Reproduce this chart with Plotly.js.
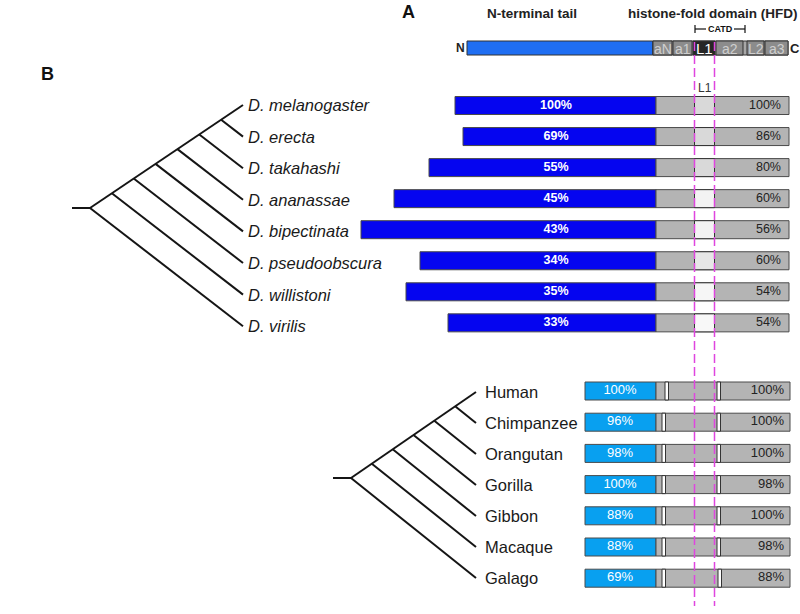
<!DOCTYPE html>
<html>
<head>
<meta charset="utf-8">
<script src="https://cdn.plot.ly/plotly-3.0.1.min.js"></script>
<style>
html,body{margin:0;padding:0;background:#fff;}
#chart{width:800px;height:614px;}
</style>
</head>
<body>
<div id="chart"></div>
<script>
// ---------------- DATA ----------------
const flySpecies = ['D. melanogaster','D. erecta','D. takahashi','D. ananassae','D. bipectinata','D. pseudoobscura','D. willistoni','D. virilis'];
const flyTailLen = [201, 193, 227, 262, 295, 236, 250, 208];   // N-terminal tail length (drawing units)
const flyTailPct = [100, 69, 55, 45, 43, 34, 35, 33];
const flyHfdPct  = [100, 86, 80, 60, 56, 60, 54, 54];
const flyL1Fill  = ['#d9d9d9','#d9d9d9','#d9d9d9','#f3f3f3','#f3f3f3','#e6e6e6','#f6f6f6','#f8f8f8'];

const primSpecies = ['Human','Chimpanzee','Orangutan','Gorilla','Gibbon','Macaque','Galago'];
const primTailPct = [100, 96, 98, 100, 88, 88, 69];
const primHfdPct  = [100, 100, 100, 98, 100, 98, 88];
const primGap1    = [665, 662, 662, 662, 662, 662, 662];  // alignment gap positions
const primGap2    = [717, 717, 717, 717, 717, 717, 718];

const domainNames = ['aN','a1','L1','a2','L2','a3'];
const domainStart = [653, 673, 693, 716, 747, 765];
const domainEnd   = [672, 692, 715, 743, 764, 788];

// ---------------- LAYOUT CONSTANTS ----------------
const FONT = 'Liberation Sans, Arial, sans-serif';
const HFD0 = 656;            // start of HFD in drawing units
const flyHfdEnd = 789, primTailStart = 585, primHfdEnd = 790;
const flyRowY  = flySpecies.map((_, i) => 105.5 + 31.05 * i);
const flyLabY  = flySpecies.map((_, i) => 105 + 31.6 * i);
const primRowY = primSpecies.map((_, i) => 391 + 31.2 * i);
const primLabY = primSpecies.map((_, i) => 392 + 31.0 * i);
const BAR_H = 18;
const L1X0 = 694.5, L1X1 = 714.5;

const traces = [];
const shapes = [];
const annotations = [];

// ---- tree helper ----
function cladogram(rootX, rootY, stubX, tipX, tipYs) {
  const xs = [], ys = [];
  xs.push(stubX, rootX, null); ys.push(rootY, rootY, null);
  const n = tipYs.length;
  const sUp = (tipYs[0] - rootY) / (tipX - rootX);
  const sDn = (tipYs[n - 1] - rootY) / (tipX - rootX);
  xs.push(rootX, tipX, null); ys.push(rootY, tipYs[0], null);
  for (let i = 1; i < n; i++) {
    const nx = (rootY - sUp * rootX - tipYs[i] + sDn * tipX) / (sDn - sUp);
    const ny = rootY + sUp * (nx - rootX);
    xs.push(nx, tipX, null); ys.push(ny, tipYs[i], null);
  }
  return {type: 'scatter', mode: 'lines', x: xs, y: ys, hoverinfo: 'skip',
          line: {color: '#151515', width: 2}, showlegend: false};
}
traces.push(cladogram(90, 208, 72, 243, flyLabY));
traces.push(cladogram(351, 478, 333, 476, primLabY));

// ---- Drosophila bars ----
traces.push({type: 'bar', orientation: 'h', y: flyRowY, x: flyTailLen,
  base: flyTailLen.map(l => HFD0 - l), width: BAR_H,
  marker: {color: '#0505f0', line: {color: '#4a4a4a', width: 1}}, hoverinfo: 'skip', showlegend: false});
traces.push({type: 'bar', orientation: 'h', y: flyRowY, x: flyRowY.map(() => flyHfdEnd - HFD0),
  base: flyRowY.map(() => HFD0), width: BAR_H,
  marker: {color: '#b4b4b4', line: {color: '#4a4a4a', width: 1}}, hoverinfo: 'skip', showlegend: false});
traces.push({type: 'scatter', mode: 'text', x: flyRowY.map(() => 556), y: flyRowY,
  text: flyTailPct.map(p => '<b>' + p + '%</b>'), textposition: 'middle center',
  textfont: {family: FONT, size: 12.5, color: '#ffffff'}, hoverinfo: 'skip', showlegend: false});
traces.push({type: 'scatter', mode: 'text', x: flyRowY.map(() => 781), y: flyRowY,
  text: flyHfdPct.map(p => p + '%'), textposition: 'middle left',
  textfont: {family: FONT, size: 12.5, color: '#222'}, hoverinfo: 'skip', showlegend: false});
flyRowY.forEach((y, i) => {
  shapes.push({type: 'rect', xref: 'x', yref: 'y', x0: L1X0, x1: L1X1, y0: y - BAR_H / 2, y1: y + BAR_H / 2,
    fillcolor: flyL1Fill[i], line: {color: '#333', width: 1}});
});

// ---- Primate bars ----
traces.push({type: 'bar', orientation: 'h', y: primRowY, x: primRowY.map(() => HFD0 - primTailStart),
  base: primRowY.map(() => primTailStart), width: BAR_H,
  marker: {color: '#08a0f0', line: {color: '#4a4a4a', width: 1}}, hoverinfo: 'skip', showlegend: false});
traces.push({type: 'bar', orientation: 'h', y: primRowY, x: primRowY.map(() => primHfdEnd - HFD0),
  base: primRowY.map(() => HFD0), width: BAR_H,
  marker: {color: '#b4b4b4', line: {color: '#4a4a4a', width: 1}}, hoverinfo: 'skip', showlegend: false});
traces.push({type: 'scatter', mode: 'text', x: primRowY.map(() => 620), y: primRowY,
  text: primTailPct.map(p => p + '%'), textposition: 'middle center',
  textfont: {family: FONT, size: 13, color: '#ffffff'}, hoverinfo: 'skip', showlegend: false});
traces.push({type: 'scatter', mode: 'text', x: primRowY.map(() => 784), y: primRowY,
  text: primHfdPct.map(p => p + '%'), textposition: 'middle left',
  textfont: {family: FONT, size: 13, color: '#222'}, hoverinfo: 'skip', showlegend: false});
primRowY.forEach((y, i) => {
  [primGap1[i], primGap2[i]].forEach(g => {
    shapes.push({type: 'rect', xref: 'x', yref: 'y', x0: g, x1: g + 3.5, y0: y - BAR_H / 2, y1: y + BAR_H / 2,
      fillcolor: '#ffffff', line: {color: '#333', width: 1}});
  });
});

// ---- Top domain diagram ----
const TOP_Y = 48, TOP_H = 14;
traces.push({type: 'bar', orientation: 'h', y: [TOP_Y], x: [domainStart[0] - 467], base: [467], width: TOP_H,
  marker: {color: '#1f6ef2', line: {color: '#333', width: 1}}, hoverinfo: 'skip', showlegend: false});
shapes.push({type: 'rect', xref: 'x', yref: 'y', x0: domainStart[0], x1: domainEnd[domainEnd.length - 1],
  y0: TOP_Y - TOP_H / 2, y1: TOP_Y + TOP_H / 2, fillcolor: '#a8a8a8', line: {color: '#333', width: 1}});
domainNames.forEach((d, i) => {
  const isL1 = d === 'L1';
  shapes.push({type: 'rect', xref: 'x', yref: 'y', x0: domainStart[i], x1: domainEnd[i],
    y0: TOP_Y - TOP_H / 2, y1: TOP_Y + TOP_H / 2, fillcolor: isL1 ? '#262626' : '#8c8c8c',
    line: {color: '#333', width: 1}});
  annotations.push({xref: 'x', yref: 'y', x: (domainStart[i] + domainEnd[i]) / 2, y: TOP_Y + 0.5, text: d,
    showarrow: false, xanchor: 'center', yanchor: 'middle',
    font: {family: FONT, size: isL1 ? 15 : 14, color: isL1 ? '#ffffff' : '#cfcfcf'}});
});

// CATD bracket
shapes.push({type: 'line', xref: 'x', yref: 'y', x0: 695, x1: 695, y0: 25, y1: 33, line: {color: '#111', width: 1.2}});
shapes.push({type: 'line', xref: 'x', yref: 'y', x0: 745, x1: 745, y0: 25, y1: 33, line: {color: '#111', width: 1.2}});
shapes.push({type: 'line', xref: 'x', yref: 'y', x0: 695, x1: 706, y0: 29, y1: 29, line: {color: '#111', width: 1.2}});
shapes.push({type: 'line', xref: 'x', yref: 'y', x0: 734, x1: 745, y0: 29, y1: 29, line: {color: '#111', width: 1.2}});
annotations.push({xref: 'x', yref: 'y', x: 720, y: 29, text: '<b>CATD</b>', showarrow: false,
  xanchor: 'center', yanchor: 'middle', font: {family: FONT, size: 9, color: '#111'}});

// Magenta dashed guide lines
[L1X0, L1X1].forEach(x => {
  shapes.push({type: 'line', xref: 'x', yref: 'y', x0: x, x1: x, y0: 42, y1: 606,
    line: {color: '#df45df', width: 1.5, dash: '9px,4px'}});
});

// ---- Text labels ----
function ann(x, y, text, size, anchor, color) {
  annotations.push({xref: 'x', yref: 'y', x: x, y: y, text: text, showarrow: false,
    xanchor: anchor || 'left', yanchor: 'middle', font: {family: FONT, size: size, color: color || '#1a1a1a'}});
}
ann(408, 12, '<b>A</b>', 18, 'center', '#111');
ann(47, 74, '<b>B</b>', 18, 'center', '#111');
ann(532, 13, '<b>N-terminal tail</b>', 13.5, 'center', '#222');
ann(712, 13, '<b>histone-fold domain (HFD)</b>', 13.5, 'center', '#222');
ann(460, TOP_Y, '<b>N</b>', 12, 'center', '#222');
ann(795, TOP_Y, '<b>C</b>', 13, 'center', '#222');
ann(705, 88, 'L1', 12, 'center', '#333');
flySpecies.forEach((s, i) => ann(246, flyLabY[i], '<i>' + s + '</i>', 16.5, 'left'));
primSpecies.forEach((s, i) => ann(483, primLabY[i], s, 16.5, 'left'));

const layout = {
  width: 800, height: 614,
  margin: {l: 0, r: 0, t: 0, b: 0, pad: 0},
  paper_bgcolor: '#ffffff', plot_bgcolor: '#ffffff',
  showlegend: false, barmode: 'overlay',
  xaxis: {range: [0, 800], visible: false, fixedrange: true},
  yaxis: {range: [614, 0], visible: false, fixedrange: true},
  shapes: shapes, annotations: annotations,
  font: {family: FONT}
};
Plotly.newPlot('chart', traces, layout, {staticPlot: true, displayModeBar: false});
</script>
</body>
</html>
